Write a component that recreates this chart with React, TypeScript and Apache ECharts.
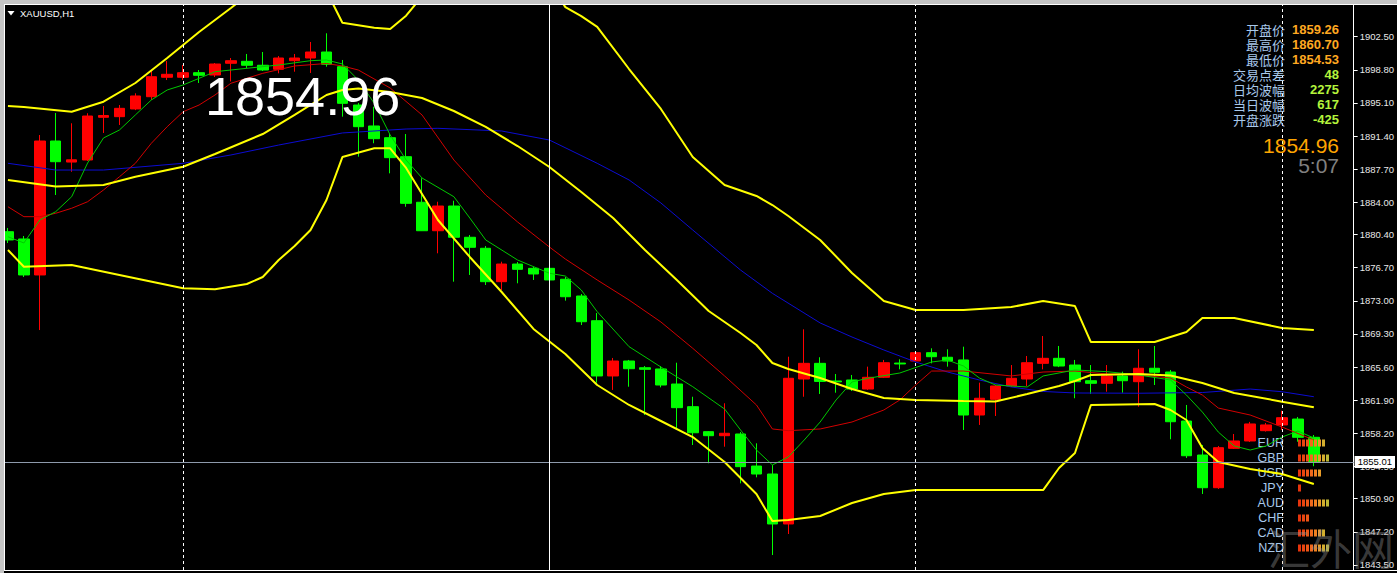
import React, { useEffect, useRef } from "react";
import * as echarts from "echarts";

// ---------- data ----------
// candles: [open, close, low, high]  (red = up, green = down)
const candles: number[][] = [
  [1880.72, 1879.8, 1879.46, 1881.14],
  [1879.91, 1875.89, 1875.66, 1880.24],
  [1875.89, 1890.85, 1869.74, 1891.52],
  [1890.85, 1888.54, 1884.82, 1893.98],
  [1888.5, 1888.75, 1887.42, 1892.83],
  [1888.73, 1893.64, 1888.62, 1893.95],
  [1893.5, 1893.7, 1891.75, 1894.76],
  [1893.57, 1894.5, 1892.64, 1894.87],
  [1894.43, 1895.88, 1894.3, 1896.18],
  [1895.8, 1898.03, 1895.43, 1898.78],
  [1897.97, 1898.3, 1897.66, 1899.79],
  [1897.97, 1898.48, 1897.66, 1899.34],
  [1898.48, 1898.19, 1897.33, 1898.78],
  [1898.22, 1899.45, 1898.0, 1899.56],
  [1899.53, 1899.82, 1897.5, 1900.12],
  [1899.75, 1899.31, 1898.97, 1900.57],
  [1899.31, 1898.78, 1898.67, 1900.79],
  [1898.86, 1900.12, 1898.41, 1900.34],
  [1899.82, 1900.12, 1898.59, 1900.57],
  [1900.12, 1900.79, 1898.45, 1901.91],
  [1900.79, 1899.42, 1899.15, 1902.88],
  [1899.15, 1895.06, 1893.57, 1899.9],
  [1894.87, 1892.45, 1889.1, 1895.1],
  [1892.53, 1891.11, 1890.6, 1894.68],
  [1891.22, 1888.99, 1887.24, 1891.63],
  [1889.1, 1883.89, 1883.51, 1891.63],
  [1884.01, 1880.83, 1880.8, 1886.69],
  [1880.83, 1883.59, 1878.31, 1884.07],
  [1883.59, 1880.1, 1875.14, 1884.18],
  [1880.1, 1878.98, 1875.89, 1880.35],
  [1878.87, 1875.14, 1874.77, 1879.12],
  [1875.14, 1877.11, 1874.21, 1877.37],
  [1877.11, 1876.52, 1874.96, 1877.34],
  [1876.63, 1876.0, 1875.33, 1876.81],
  [1876.63, 1875.33, 1875.22, 1876.77],
  [1875.41, 1873.46, 1873.02, 1875.66],
  [1873.54, 1870.67, 1870.3, 1873.76],
  [1870.78, 1864.61, 1863.86, 1871.64],
  [1864.61, 1866.28, 1863.05, 1866.62],
  [1866.28, 1865.42, 1863.41, 1866.4],
  [1865.53, 1865.35, 1860.25, 1865.72],
  [1865.39, 1863.6, 1863.34, 1865.72],
  [1863.71, 1861.07, 1858.58, 1866.09],
  [1861.18, 1858.27, 1856.9, 1862.29],
  [1858.39, 1857.94, 1854.86, 1858.46],
  [1857.94, 1858.21, 1856.71, 1861.56],
  [1858.13, 1854.48, 1852.62, 1858.35],
  [1854.55, 1853.66, 1853.29, 1857.09],
  [1853.66, 1848.08, 1844.61, 1854.67],
  [1848.08, 1864.35, 1846.96, 1866.76],
  [1864.27, 1866.02, 1862.29, 1869.82],
  [1866.02, 1864.0, 1862.6, 1866.7],
  [1864.05, 1863.95, 1862.74, 1864.83],
  [1864.16, 1863.15, 1862.93, 1864.72],
  [1863.15, 1864.46, 1863.05, 1865.65],
  [1864.46, 1866.09, 1864.38, 1866.4],
  [1866.05, 1865.95, 1865.35, 1866.47],
  [1866.28, 1867.21, 1866.17, 1867.4],
  [1867.21, 1866.76, 1866.02, 1867.7],
  [1866.7, 1866.28, 1865.65, 1867.59],
  [1866.4, 1860.25, 1858.58, 1867.88],
  [1860.25, 1862.12, 1859.14, 1863.86],
  [1862.0, 1863.49, 1860.14, 1863.6],
  [1863.49, 1864.35, 1863.38, 1865.83],
  [1864.27, 1866.09, 1863.49, 1866.84],
  [1866.02, 1866.58, 1865.35, 1869.07],
  [1866.58, 1865.72, 1865.6, 1867.96],
  [1865.83, 1863.97, 1862.12, 1866.4],
  [1864.08, 1863.79, 1862.6, 1865.83],
  [1863.79, 1864.61, 1862.85, 1865.83],
  [1864.61, 1864.08, 1862.74, 1865.09],
  [1863.97, 1865.47, 1861.18, 1867.59],
  [1865.47, 1865.02, 1863.6, 1867.96],
  [1865.05, 1859.5, 1857.54, 1865.28],
  [1859.58, 1855.7, 1855.45, 1861.37],
  [1855.78, 1852.13, 1851.43, 1856.9],
  [1852.13, 1856.6, 1851.99, 1856.79],
  [1856.53, 1857.35, 1856.45, 1858.13],
  [1857.35, 1859.25, 1857.24, 1859.48],
  [1858.5, 1859.14, 1858.4, 1859.36],
  [1859.14, 1859.95, 1858.58, 1860.73],
  [1859.8, 1857.76, 1857.27, 1860.03],
  [1857.76, 1854.96, 1854.53, 1858.02],
];

// indicator lines: [bar index, price]
const bollUpper: number[][] = [
  [0, 1894.76], [1, 1894.65], [4, 1894.12], [6, 1895.24], [8, 1897.33], [10, 1900.12],
  [12, 1903.02], [14, 1905.7], [16, 1908.5], [18, 1909.5], [20, 1907.6], [21, 1904.06],
  [23, 1903.5], [24, 1903.36], [25, 1904.85], [26, 1907.0], [28, 1910.0], [31, 1911.0],
  [34, 1908.5], [35, 1905.8], [36, 1904.8], [37, 1903.6], [39, 1898.89], [41, 1894.43],
  [43, 1889.06], [45, 1885.94], [47, 1884.71], [48, 1883.7], [49, 1882.48], [51, 1879.8],
  [53, 1876.11], [55, 1872.98], [57, 1871.98], [60, 1871.98], [63, 1872.31], [65, 1872.98],
  [67, 1872.42], [68, 1868.4], [72, 1868.4], [74, 1869.52], [75, 1871.08], [77, 1871.08],
  [80, 1869.97], [82, 1869.74],
];
const bollMiddle: number[][] = [
  [0, 1886.5], [3, 1885.77], [6, 1885.94], [8, 1886.86], [11, 1887.98], [13, 1889.4],
  [16, 1891.63], [18, 1893.76], [20, 1895.99], [21, 1896.55], [22, 1896.71], [24, 1896.32],
  [26, 1895.65], [28, 1894.2], [30, 1892.42], [32, 1890.29], [34, 1887.95], [36, 1885.16],
  [38, 1882.25], [40, 1878.68], [42, 1875.33], [44, 1871.87], [46, 1869.41], [47, 1868.07],
  [48, 1866.06], [49, 1865.39], [51, 1864.38], [53, 1863.15], [55, 1862.15], [57, 1861.93],
  [60, 1861.81], [62, 1861.75], [64, 1862.6], [66, 1863.49], [67, 1864.05], [68, 1864.72],
  [71, 1864.83], [73, 1864.66], [75, 1863.82], [77, 1862.71], [80, 1861.74], [82, 1861.11],
];
const bollLower: number[][] = [
  [0, 1878.68], [1, 1876.81], [4, 1877.0], [7, 1875.89], [11, 1874.4], [13, 1874.29],
  [15, 1874.88], [16, 1875.66], [17, 1877.56], [18, 1879.12], [19, 1880.91], [20, 1884.26],
  [21, 1889.06], [23, 1890.04], [24, 1890.04], [25, 1887.84], [27, 1882.03], [29, 1877.9],
  [31, 1873.99], [33, 1869.86], [35, 1867.06], [37, 1863.6], [39, 1861.37], [41, 1859.58],
  [43, 1857.79], [45, 1855.0], [47, 1851.43], [48, 1848.41], [49, 1848.52], [51, 1848.97],
  [53, 1850.42], [55, 1851.43], [57, 1851.87], [65, 1851.87], [66, 1854.33], [67, 1856.01],
  [68, 1861.37], [72, 1861.48], [73, 1860.81], [74, 1859.69], [75, 1856.57], [76, 1855.0],
  [78, 1854.22], [80, 1853.66], [82, 1852.54],
];
const maFast: number[][] = [
  [0, 1880.16], [1, 1879.46], [2, 1882.03], [3, 1882.96], [4, 1884.63], [5, 1888.39],
  [6, 1891.19], [7, 1892.08], [8, 1893.76], [9, 1895.43], [10, 1896.55], [11, 1897.11],
  [12, 1897.85], [13, 1898.59], [15, 1898.97], [17, 1899.34], [19, 1899.82], [20, 1899.9],
  [21, 1899.45], [22, 1897.66], [23, 1895.06], [24, 1891.52], [25, 1888.73], [26, 1886.72],
  [28, 1884.63], [29, 1882.25], [30, 1879.8], [32, 1877.56], [34, 1876.08], [35, 1875.77],
  [36, 1874.21], [37, 1871.79], [39, 1867.88], [41, 1865.61], [43, 1863.41], [45, 1860.92],
  [46, 1858.58], [47, 1856.34], [48, 1854.67], [49, 1855.56], [50, 1857.46], [51, 1859.47],
  [52, 1861.93], [53, 1863.94], [54, 1864.35], [56, 1864.94], [58, 1866.17], [59, 1866.39],
  [60, 1865.72], [61, 1864.38], [62, 1863.6], [64, 1863.38], [65, 1864.61], [67, 1865.28],
  [69, 1865.09], [71, 1864.72], [73, 1864.16], [74, 1862.48], [75, 1860.58], [76, 1858.35],
  [77, 1856.79], [78, 1856.34], [79, 1856.79], [80, 1857.79], [81, 1858.46], [82, 1857.68],
];
const maMid: number[][] = [
  [0, 1883.51], [1, 1882.4], [2, 1882.4], [3, 1882.78], [4, 1883.34], [5, 1884.07],
  [6, 1885.38], [7, 1886.86], [8, 1888.36], [9, 1890.59], [10, 1892.45], [11, 1894.12],
  [12, 1894.87], [13, 1895.99], [14, 1897.3], [16, 1898.41], [18, 1899.23], [20, 1899.51],
  [21, 1899.23], [22, 1898.78], [24, 1896.77], [26, 1893.76], [28, 1888.73], [30, 1884.82],
  [32, 1881.81], [34, 1879.01], [35, 1877.67], [37, 1875.33], [39, 1873.09], [41, 1870.64],
  [43, 1867.7], [45, 1864.61], [47, 1861.37], [48, 1858.69], [49, 1858.5], [51, 1858.69],
  [53, 1859.47], [55, 1860.81], [56, 1861.93], [57, 1863.6], [58, 1865.16], [60, 1865.16],
  [63, 1864.61], [65, 1865.05], [67, 1865.16], [69, 1864.83], [71, 1864.72], [73, 1864.38],
  [74, 1863.38], [75, 1862.48], [76, 1861.03], [78, 1860.25], [80, 1858.91], [82, 1857.46],
];
const maSlow: number[][] = [
  [0, 1888.36], [3, 1887.61], [6, 1887.61], [11, 1888.36], [14, 1889.29], [17, 1890.4],
  [21, 1891.75], [25, 1892.19], [27, 1892.27], [31, 1891.97], [34, 1890.96], [37, 1888.36],
  [39, 1886.5], [41, 1883.93], [43, 1880.91], [46, 1876.44], [48, 1873.84], [51, 1870.53],
  [53, 1868.96], [55, 1867.51], [57, 1866.17], [59, 1865.05], [61, 1864.16], [63, 1863.38],
  [65, 1862.88], [67, 1862.71], [71, 1862.68], [75, 1862.76], [78, 1863.15], [80, 1862.85],
  [82, 1862.29],
];

const priceTicks = [
  1843.5, 1847.2, 1850.9, 1854.5, 1858.2, 1861.9, 1865.6, 1869.3, 1873.0,
  1876.7, 1880.4, 1884.0, 1887.7, 1891.4, 1895.1, 1898.8, 1902.5,
];
const yMin = 1842.94;
const yMax = 1906.04;
const currentPrice = 1855.01;
const dashedSeparators = [11, 57, 80];
const solidSeparators = [34];
const slotCount = 85;

const symbolTitle = "XAUUSD,H1";
const bigPrice = "1854.96";
const infoLabels = ["开盘价", "最高价", "最低价", "交易点差", "日均波幅", "当日波幅", "开盘涨跌"];
const infoValues = ["1859.26", "1860.70", "1854.53", "48", "2275", "617", "-425"];
const infoIsPrice = [true, true, true, false, false, false, false];
const panelPrice = "1854.96";
const panelTimer = "5:07";

const currencies = ["EUR", "GBP", "USD", "JPY", "AUD", "CHF", "CAD", "NZD"];
const strength = [7, 8, 6, 1, 8, 3, 7, 8];
const segColors = ["#e6340c", "#ea4510", "#ee5616", "#f06a1c", "#f08222", "#e89c28", "#d4ae2e", "#bcb634"];

const watermark = "汇外网";

export default function App() {
  const ref = useRef<HTMLDivElement>(null);

  useEffect(() => {
    if (!ref.current) return;
    const chart = echarts.init(ref.current, null, { renderer: "svg" });
    const cats = Array.from({ length: slotCount }, (_, i) => String(i));
    const lineSeries = (data: number[][], color: string, width: number) => ({
      type: "line",
      data,
      symbol: "none",
      showSymbol: false,
      lineStyle: { color, width },
      z: 3,
      silent: true,
      xAxisIndex: 0,
      yAxisIndex: 0,
    });

    const graphics: any[] = [];
    // title
    graphics.push({
      type: "polygon",
      shape: { points: [[7.5, 11], [14.5, 11], [11, 15.5]] },
      style: { fill: "#ffffff" },
      z: 50,
    });
    graphics.push({
      type: "text",
      x: 20,
      y: 13.5,
      style: {
        text: symbolTitle,
        fill: "#ffffff",
        font: '9.5px "Liberation Sans", Arial, sans-serif',
        textAlign: "left",
        textVerticalAlign: "middle",
      },
      z: 50,
    });
    // big price
    graphics.push({
      type: "text",
      x: 205,
      y: 96,
      style: {
        text: bigPrice,
        fill: "#ffffff",
        font: '54px "Liberation Sans", Arial, sans-serif',
        textAlign: "left",
        textVerticalAlign: "middle",
      },
      z: 50,
    });
    // info panel
    infoLabels.forEach((lab, i) => {
      const y = 29 + i * 15;
      graphics.push({
        type: "text",
        x: 1285,
        y,
        style: {
          text: lab,
          fill: "#a8c8ea",
          font: '13px "Noto Sans CJK SC", sans-serif',
          textAlign: "right",
          textVerticalAlign: "middle",
        },
        z: 50,
      });
      graphics.push({
        type: "text",
        x: 1339,
        y,
        style: {
          text: infoValues[i],
          fill: infoIsPrice[i] ? "#ffa820" : "#b4f43c",
          font: 'bold 13px "Liberation Sans", Arial, sans-serif',
          textAlign: "right",
          textVerticalAlign: "middle",
        },
        z: 50,
      });
    });
    graphics.push({
      type: "text",
      x: 1339,
      y: 145,
      style: {
        text: panelPrice,
        fill: "#ffa500",
        font: '21px "Liberation Sans", Arial, sans-serif',
        textAlign: "right",
        textVerticalAlign: "middle",
      },
      z: 50,
    });
    graphics.push({
      type: "text",
      x: 1339,
      y: 165,
      style: {
        text: panelTimer,
        fill: "#808080",
        font: '21px "Liberation Sans", Arial, sans-serif',
        textAlign: "right",
        textVerticalAlign: "middle",
      },
      z: 50,
    });
    // watermark
    graphics.push({
      type: "text",
      x: 1268,
      y: 546,
      style: {
        text: watermark,
        fill: "rgba(150,150,150,0.4)",
        font: '42px "Noto Sans CJK SC", sans-serif',
        textAlign: "left",
        textVerticalAlign: "middle",
      },
      z: 40,
    });
    // window frame
    graphics.push({ type: "rect", shape: { x: 0, y: 0, width: 1397, height: 4 }, style: { fill: "#c4c4c4" }, z: 60 });
    graphics.push({ type: "rect", shape: { x: 0, y: 0, width: 4, height: 573 }, style: { fill: "#c4c4c4" }, z: 60 });
    graphics.push({ type: "line", shape: { x1: 4, y1: 4.5, x2: 1397, y2: 4.5 }, style: { stroke: "#ffffff", lineWidth: 1 }, z: 61 });
    graphics.push({ type: "line", shape: { x1: 4.5, y1: 4, x2: 4.5, y2: 571 }, style: { stroke: "#ffffff", lineWidth: 1 }, z: 61 });
    graphics.push({ type: "line", shape: { x1: 4, y1: 570.5, x2: 1397, y2: 570.5 }, style: { stroke: "#ffffff", lineWidth: 1 }, z: 61 });

    const markData: any[] = [
      {
        yAxis: currentPrice,
        lineStyle: { color: "#8e9aac", width: 1, type: "solid" },
        label: {
          show: true,
          position: "end",
          distance: 1,
          formatter: currentPrice.toFixed(2),
          color: "#000000",
          backgroundColor: "#ffffff",
          padding: [1, 3, 1, 3],
          fontSize: 9.5,
          fontFamily: '"Liberation Sans", Arial, sans-serif',
        },
      },
      ...dashedSeparators.map((i) => ({
        xAxis: String(i),
        lineStyle: { color: "#ffffff", width: 1, type: [3, 3] },
        label: { show: false },
      })),
      ...solidSeparators.map((i) => ({
        xAxis: String(i),
        lineStyle: { color: "#ffffff", width: 1, type: "solid" },
        label: { show: false },
      })),
    ];

    const option: any = {
      animation: false,
      backgroundColor: "#000000",
      grid: [
        { left: -3, right: 40, top: 5, bottom: 3, containLabel: false },
        { left: 1298, top: 435.5, width: 40, height: 120, containLabel: false },
      ],
      xAxis: [
        {
          type: "category",
          data: cats,
          boundaryGap: true,
          show: false,
          gridIndex: 0,
        },
        { type: "value", min: 0, max: 10, show: false, gridIndex: 1 },
      ],
      yAxis: [
        {
          type: "value",
          position: "right",
          min: yMin,
          max: yMax,
          gridIndex: 0,
          splitLine: { show: false },
          axisLine: { show: true, onZero: false, lineStyle: { color: "#ffffff", width: 1 } },
          axisTick: {
            show: true,
            length: 4,
            inside: false,
            customValues: priceTicks,
            lineStyle: { color: "#ffffff" },
          },
          axisLabel: {
            show: true,
            margin: 6,
            color: "#e8e8e8",
            fontSize: 9.5,
            fontFamily: '"Liberation Sans", Arial, sans-serif',
            customValues: priceTicks,
            formatter: (v: number) => v.toFixed(2),
          },
        },
        {
          type: "category",
          data: currencies,
          inverse: true,
          gridIndex: 1,
          axisLine: { show: false },
          axisTick: { show: false },
          splitLine: { show: false },
          axisLabel: {
            show: true,
            interval: 0,
            margin: 14,
            color: "#a8c8ea",
            fontSize: 12.5,
            fontFamily: '"Liberation Sans", Arial, sans-serif',
          },
        },
      ],
      graphic: { elements: graphics },
      series: [
        {
          type: "candlestick",
          data: candles,
          barWidth: 11,
          xAxisIndex: 0,
          yAxisIndex: 0,
          z: 2,
          itemStyle: {
            color: "#ff0000",
            color0: "#00ff00",
            borderColor: "#ff0000",
            borderColor0: "#00ff00",
            borderWidth: 1,
          },
          markLine: {
            symbol: ["none", "none"],
            silent: true,
            animation: false,
            data: markData,
          },
        },
        lineSeries(maSlow, "#0c0cd2", 1),
        lineSeries(maMid, "#d20000", 1),
        lineSeries(maFast, "#00c800", 1),
        lineSeries(bollUpper, "#ffff00", 2),
        lineSeries(bollMiddle, "#ffff00", 2),
        lineSeries(bollLower, "#ffff00", 2),
        {
          type: "custom",
          xAxisIndex: 1,
          yAxisIndex: 1,
          z: 5,
          data: strength.map((v, i) => [v, i]),
          renderItem: (params: any, api: any) => {
            const n = api.value(0);
            const c = api.value(1);
            const children: any[] = [];
            for (let k = 0; k < n; k++) {
              const p = api.coord([k, c]);
              children.push({
                type: "rect",
                shape: { x: p[0], y: p[1] - 3.5, width: 3, height: 7 },
                style: { fill: segColors[k] },
              });
            }
            return { type: "group", children };
          },
        },
      ],
    };
    chart.setOption(option);
    return () => chart.dispose();
  }, []);

  return (
    <div
      ref={ref}
      style={{ position: "fixed", left: 0, top: 0, width: 1397, height: 573, background: "#000" }}
    />
  );
}
